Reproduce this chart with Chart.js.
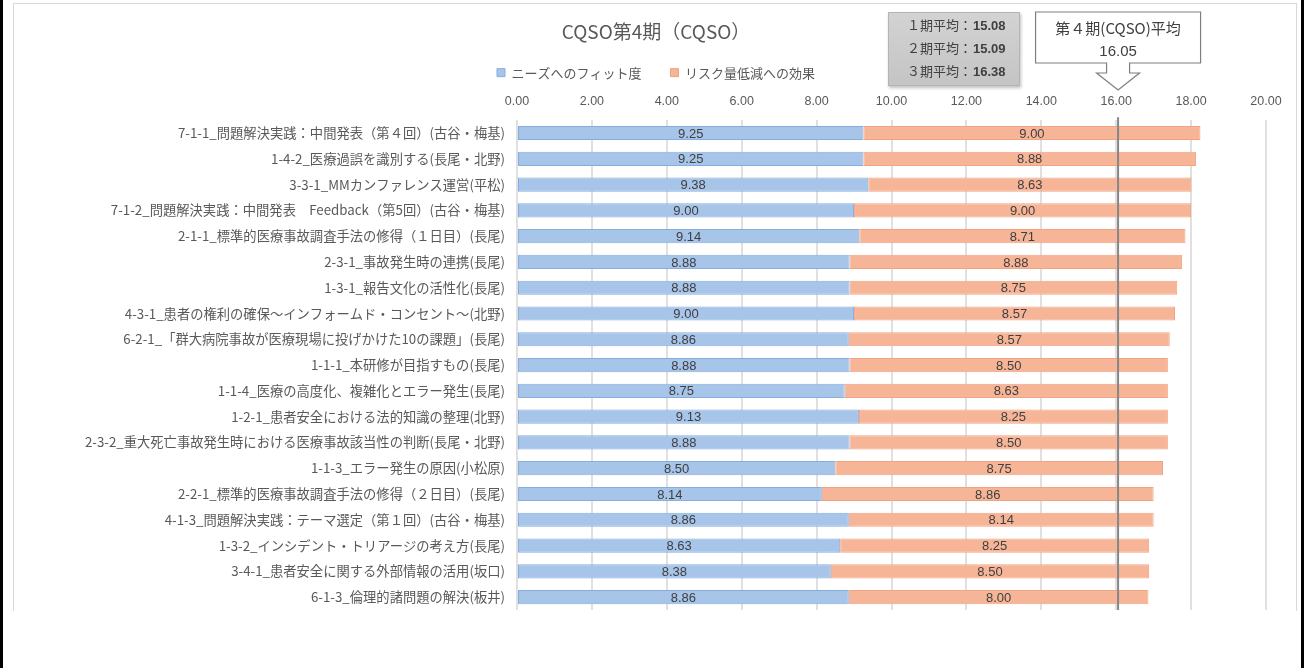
<!DOCTYPE html>
<html lang="ja">
<head>
<meta charset="utf-8">
<title>CQSO第4期（CQSO）</title>
<script src="https://cdn.jsdelivr.net/npm/chart.js@4.4.1/dist/chart.umd.min.js"></script>
<style>
    html, body { margin: 0; padding: 0; background: #fff; }
    #wrap { position: relative; width: 1304px; height: 668px; overflow: hidden; }
    #frame { position: absolute; left: 13px; top: 3px; width: 1282px; height: 607px; border: 1px solid #d9d9d9; border-bottom: none; }
    .side { position: absolute; top: 0; width: 3px; height: 668px; background: #000; }
    canvas { position: absolute; left: 0; top: 0; }
</style>
</head>
<body>
<div id="wrap">
    <div class="side" style="left:0"></div>
    <div class="side" style="right:0"></div>
    <div id="frame"></div>
    <canvas id="cqsoChart" width="1304" height="668"></canvas>
</div>
<script>
// Категорії (зверху вниз)
const categories = [
    '7-1-1_問題解決実践：中間発表（第４回）(古谷・梅基)',
    '1-4-2_医療過誤を識別する(長尾・北野)',
    '3-3-1_MMカンファレンス運営(平松)',
    '7-1-2_問題解決実践：中間発表　Feedback（第5回）(古谷・梅基)',
    '2-1-1_標準的医療事故調査手法の修得（１日目）(長尾)',
    '2-3-1_事故発生時の連携(長尾)',
    '1-3-1_報告文化の活性化(長尾)',
    '4-3-1_患者の権利の確保～インフォームド・コンセント～(北野)',
    '6-2-1_「群大病院事故が医療現場に投げかけた10の課題」(長尾)',
    '1-1-1_本研修が目指すもの(長尾)',
    '1-1-4_医療の高度化、複雑化とエラー発生(長尾)',
    '1-2-1_患者安全における法的知識の整理(北野)',
    '2-3-2_重大死亡事故発生時における医療事故該当性の判断(長尾・北野)',
    '1-1-3_エラー発生の原因(小松原)',
    '2-2-1_標準的医療事故調査手法の修得（２日目）(長尾)',
    '4-1-3_問題解決実践：テーマ選定（第１回）(古谷・梅基)',
    '1-3-2_インシデント・トリアージの考え方(長尾)',
    '3-4-1_患者安全に関する外部情報の活用(坂口)',
    '6-1-3_倫理的諸問題の解決(板井)'
];

// Серії
const needsFit = [9.25, 9.25, 9.38, 9.00, 9.14, 8.88, 8.88, 9.00, 8.86, 8.88, 8.75, 9.13, 8.88, 8.50, 8.14, 8.86, 8.63, 8.38, 8.86];
const riskEffect = [9.00, 8.88, 8.63, 9.00, 8.71, 8.88, 8.75, 8.57, 8.57, 8.50, 8.63, 8.25, 8.50, 8.75, 8.86, 8.14, 8.25, 8.50, 8.00];

const seriesNames = ['ニーズへのフィット度', 'リスク量低減への効果'];

// Шкала X
const xMin = 0;
const xMax = 20;
const xStep = 2;

// Середні значення попередніх періодів
const prevPeriodLabels = ['１期平均：', '２期平均：', '３期平均：'];
const prevPeriodValues = [15.08, 15.09, 16.38];

// Середнє поточного періоду
const currentAvgLabel = '第４期(CQSO)平均';
const currentAvg = 16.05;

const jpFont = '"Noto Sans CJK JP", "Noto Sans", sans-serif';
const numFont = '"Liberation Sans", Arial, sans-serif';
const padLeft = 46;

// Плагін: підписи на барах, лінія середнього, вставки
const overlayPlugin = {
    id: 'overlay',
    afterDatasetsDraw(chart) {
        const { ctx, chartArea, scales: { x } } = chart;
        ctx.save();
        ctx.font = '13px ' + numFont;
        ctx.fillStyle = '#404040';
        ctx.textAlign = 'center';
        ctx.textBaseline = 'middle';
        chart.data.datasets.forEach((ds, i) => {
            chart.getDatasetMeta(i).data.forEach((bar, j) => {
                const cx = (bar.x + bar.base) / 2;
                ctx.fillText(ds.data[j].toFixed(2), cx, bar.y + 1);
            });
        });

        // вертикальна лінія середнього
        const ax = x.getPixelForValue(currentAvg);
        ctx.strokeStyle = '#868686';
        ctx.lineWidth = 2;
        ctx.beginPath();
        ctx.moveTo(ax, chartArea.top - 3);
        ctx.lineTo(ax, chartArea.bottom);
        ctx.stroke();
        ctx.restore();
    },
    afterDraw(chart) {
        const { ctx, scales: { x } } = chart;
        ctx.save();

        // сіра вставка з попередніми середніми
        const bx = 888, by = 12, bw = 132, bh = 74;
        ctx.shadowColor = 'rgba(0,0,0,0.25)';
        ctx.shadowBlur = 3;
        ctx.shadowOffsetX = 1;
        ctx.shadowOffsetY = 2;
        const g = ctx.createLinearGradient(0, by, 0, by + bh);
        g.addColorStop(0, '#d3d3d3');
        g.addColorStop(1, '#c4c4c4');
        ctx.fillStyle = g;
        ctx.fillRect(bx, by, bw, bh);
        ctx.shadowColor = 'transparent';
        ctx.strokeStyle = '#b4b4b4';
        ctx.lineWidth = 1;
        ctx.strokeRect(bx + 0.5, by + 0.5, bw - 1, bh - 1);

        ctx.fillStyle = '#404040';
        ctx.textBaseline = 'middle';
        ctx.textAlign = 'left';
        prevPeriodLabels.forEach((lbl, i) => {
            const ty = 25 + i * 23;
            ctx.font = '13px ' + jpFont;
            ctx.fillText(lbl, 907, ty);
            const w = ctx.measureText(lbl).width;
            ctx.font = 'bold 13px ' + numFont;
            ctx.fillText(prevPeriodValues[i].toFixed(2), 907 + w + 1, ty + 1);
        });

        // виноска зі стрілкою
        const cx = x.getPixelForValue(currentAvg);
        const hw = 82.5, top = 12, bot = 63, sw = 11.5, hh = 21.5, neck = 73, tip = 90;
        ctx.beginPath();
        ctx.moveTo(cx - hw, top);
        ctx.lineTo(cx + hw, top);
        ctx.lineTo(cx + hw, bot);
        ctx.lineTo(cx + sw, bot);
        ctx.lineTo(cx + sw, neck);
        ctx.lineTo(cx + hh, neck);
        ctx.lineTo(cx, tip);
        ctx.lineTo(cx - hh, neck);
        ctx.lineTo(cx - sw, neck);
        ctx.lineTo(cx - sw, bot);
        ctx.lineTo(cx - hw, bot);
        ctx.closePath();
        ctx.fillStyle = '#fff';
        ctx.fill();
        ctx.strokeStyle = '#7f7f7f';
        ctx.lineWidth = 1.2;
        ctx.stroke();

        ctx.fillStyle = '#404040';
        ctx.textAlign = 'center';
        ctx.font = '15px ' + jpFont;
        ctx.fillText(currentAvgLabel, cx, 28);
        ctx.font = '15px ' + numFont;
        ctx.fillText(currentAvg.toFixed(2), cx, 52);
        ctx.restore();
    }
};

const ctx = document.getElementById('cqsoChart').getContext('2d');

new Chart(ctx, {
    type: 'bar',
    data: {
        labels: categories,
        datasets: [{
            label: seriesNames[0],
            data: needsFit,
            backgroundColor: '#a7c4e9',
            borderColor: '#86ade0',
            borderWidth: 1,
            borderSkipped: false
        }, {
            label: seriesNames[1],
            data: riskEffect,
            backgroundColor: '#f7b598',
            borderColor: '#f2a280',
            borderWidth: 1,
            borderSkipped: false
        }]
    },
    options: {
        indexAxis: 'y',
        responsive: false,
        animation: false,
        layout: { padding: { left: padLeft, right: 38, top: 3, bottom: 58 } },
        datasets: {
            bar: { categoryPercentage: 1, barPercentage: 0.55 }
        },
        scales: {
            x: {
                position: 'top',
                stacked: true,
                min: xMin,
                max: xMax,
                grid: { color: '#e0e0e0', lineWidth: 2, drawTicks: false },
                border: { display: false },
                ticks: {
                    stepSize: xStep,
                    padding: 11,
                    color: '#595959',
                    font: { family: numFont, size: 12.5 },
                    callback: v => v.toFixed(2)
                },
                afterFit(scale) { scale.height = 31; }
            },
            y: {
                stacked: true,
                grid: { display: false, drawTicks: false },
                border: { display: false },
                ticks: {
                    padding: 12,
                    autoSkip: false,
                    color: '#595959',
                    font: { family: jpFont, size: 13.3 }
                },
                afterFit(scale) { scale.width = 517 - padLeft; }
            }
        },
        plugins: {
            title: {
                display: true,
                text: 'CQSO第4期（CQSO）',
                color: '#595959',
                font: { family: jpFont, size: 19, weight: 'normal', lineHeight: 0.5333 },
                padding: { top: 24, bottom: 0 }
            },
            legend: {
                display: true,
                labels: {
                    boxWidth: 8,
                    boxHeight: 8,
                    padding: 29,
                    color: '#595959',
                    font: { family: jpFont, size: 13 }
                }
            },
            tooltip: { enabled: false }
        }
    },
    plugins: [overlayPlugin]
});
</script>
</body>
</html>
